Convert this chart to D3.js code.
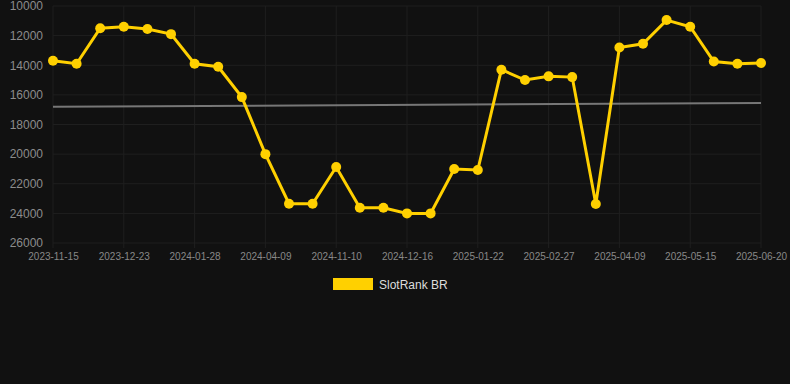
<!DOCTYPE html>
<html>
<head>
<meta charset="utf-8">
<script src="https://cdn.jsdelivr.net/npm/d3@7"></script>
<style>
  html, body { margin: 0; padding: 0; background: #111111; }
  svg { display: block; font-family: "Liberation Sans", Arial, sans-serif; }
</style>
</head>
<body>
<script>
// chart data
var dates = ["2023-11-15","2023-11-28","2023-12-10","2023-12-23","2024-01-04","2024-01-16",
  "2024-01-28","2024-02-20","2024-03-15","2024-04-09","2024-06-01","2024-08-20",
  "2024-11-10","2024-11-22","2024-12-04","2024-12-16","2024-12-28","2025-01-10",
  "2025-01-22","2025-02-03","2025-02-15","2025-02-27","2025-03-12","2025-03-26",
  "2025-04-09","2025-04-21","2025-05-03","2025-05-15","2025-05-27","2025-06-08","2025-06-20"];
var ranks = [13700, 13900, 11500, 11400, 11550, 11900, 13900, 14100, 16150, 20000,
  23350, 23350, 20870, 23620, 23620, 24000, 24000, 21000, 21070, 14300,
  15000, 14750, 14800, 23370, 12800, 12550, 10950, 11400, 13750, 13900, 13850];
var trend = [16800, 16550]; // start, end of trend line
var yTicks = [10000, 12000, 14000, 16000, 18000, 20000, 22000, 24000, 26000];
var seriesName = "SlotRank BR";

var svgWidth = 790, svgHeight = 384;
var margin = {top: 6, right: 29, bottom: 141, left: 53},
    width = svgWidth - margin.left - margin.right,
    height = svgHeight - margin.top - margin.bottom;

var svg = d3.select("body").append("svg").attr("width", svgWidth).attr("height", svgHeight);
svg.append("rect").attr("width", svgWidth).attr("height", svgHeight).attr("fill", "#111111");

var chartGroup = svg.append("g").attr("transform", `translate(${margin.left},${margin.top})`);

var xScale = d3.scalePoint().domain(dates).range([0, width]);
var yScale = d3.scaleLinear().domain([10000, 26000]).range([0, height]);

var labelDates = dates.filter(function(d, i) { return i % 3 === 0; });

// grid
chartGroup.append("g")
    .selectAll("line")
    .data(yTicks)
  .enter().append("line")
    .attr("x1", 0).attr("x2", width)
    .attr("y1", function(d) { return yScale(d); })
    .attr("y2", function(d) { return yScale(d); })
    .attr("stroke", "#1f1f1f").attr("stroke-width", 1);

chartGroup.append("g")
    .selectAll("line")
    .data(labelDates)
  .enter().append("line")
    .attr("x1", function(d) { return xScale(d); })
    .attr("x2", function(d) { return xScale(d); })
    .attr("y1", 0).attr("y2", height + 5)
    .attr("stroke", "#1f1f1f").attr("stroke-width", 1);

// y axis
var yAxis = d3.axisLeft(yScale).tickValues(yTicks).tickSize(0).tickPadding(10).tickFormat(d3.format("d"));
var yg = chartGroup.append("g").call(yAxis);
yg.select(".domain").remove();
yg.selectAll("text").attr("fill", "#8c8c8c").attr("font-size", "12px")
    .attr("font-family", "Liberation Sans, Arial, sans-serif");

// x axis
var xAxis = d3.axisBottom(xScale).tickValues(labelDates).tickSize(0).tickPadding(10);
var xg = chartGroup.append("g").attr("transform", "translate(0," + height + ")").call(xAxis);
xg.select(".domain").remove();
xg.selectAll("text").attr("fill", "#888888").attr("font-size", "10px")
    .attr("font-family", "Liberation Sans, Arial, sans-serif");

// trend line
chartGroup.append("line")
    .attr("x1", xScale(dates[0]))
    .attr("x2", xScale(dates[dates.length - 1]))
    .attr("y1", yScale(trend[0]))
    .attr("y2", yScale(trend[1]))
    .attr("stroke", "#777777").attr("stroke-width", 2);

// series line
var line = d3.line()
    .x(function(d, i) { return xScale(dates[i]); })
    .y(function(d) { return yScale(d); });

chartGroup.append("path")
    .datum(ranks)
    .attr("d", line)
    .attr("fill", "none")
    .attr("stroke", "#ffd000")
    .attr("stroke-width", 3)
    .attr("stroke-linejoin", "miter");

chartGroup.selectAll(".dot")
    .data(ranks)
  .enter().append("circle")
    .attr("r", 5)
    .attr("cx", function(d, i) { return xScale(dates[i]); })
    .attr("cy", function(d) { return yScale(d); })
    .attr("fill", "#ffd000");

// legend
var legend = svg.append("g").attr("transform", "translate(333,278)");
legend.append("rect").attr("width", 40).attr("height", 12).attr("fill", "#ffd000");
legend.append("text")
    .attr("x", 46).attr("y", 10.5)
    .attr("fill", "#dddddd")
    .attr("font-size", "12px")
    .text(seriesName);
</script>
</body>
</html>
